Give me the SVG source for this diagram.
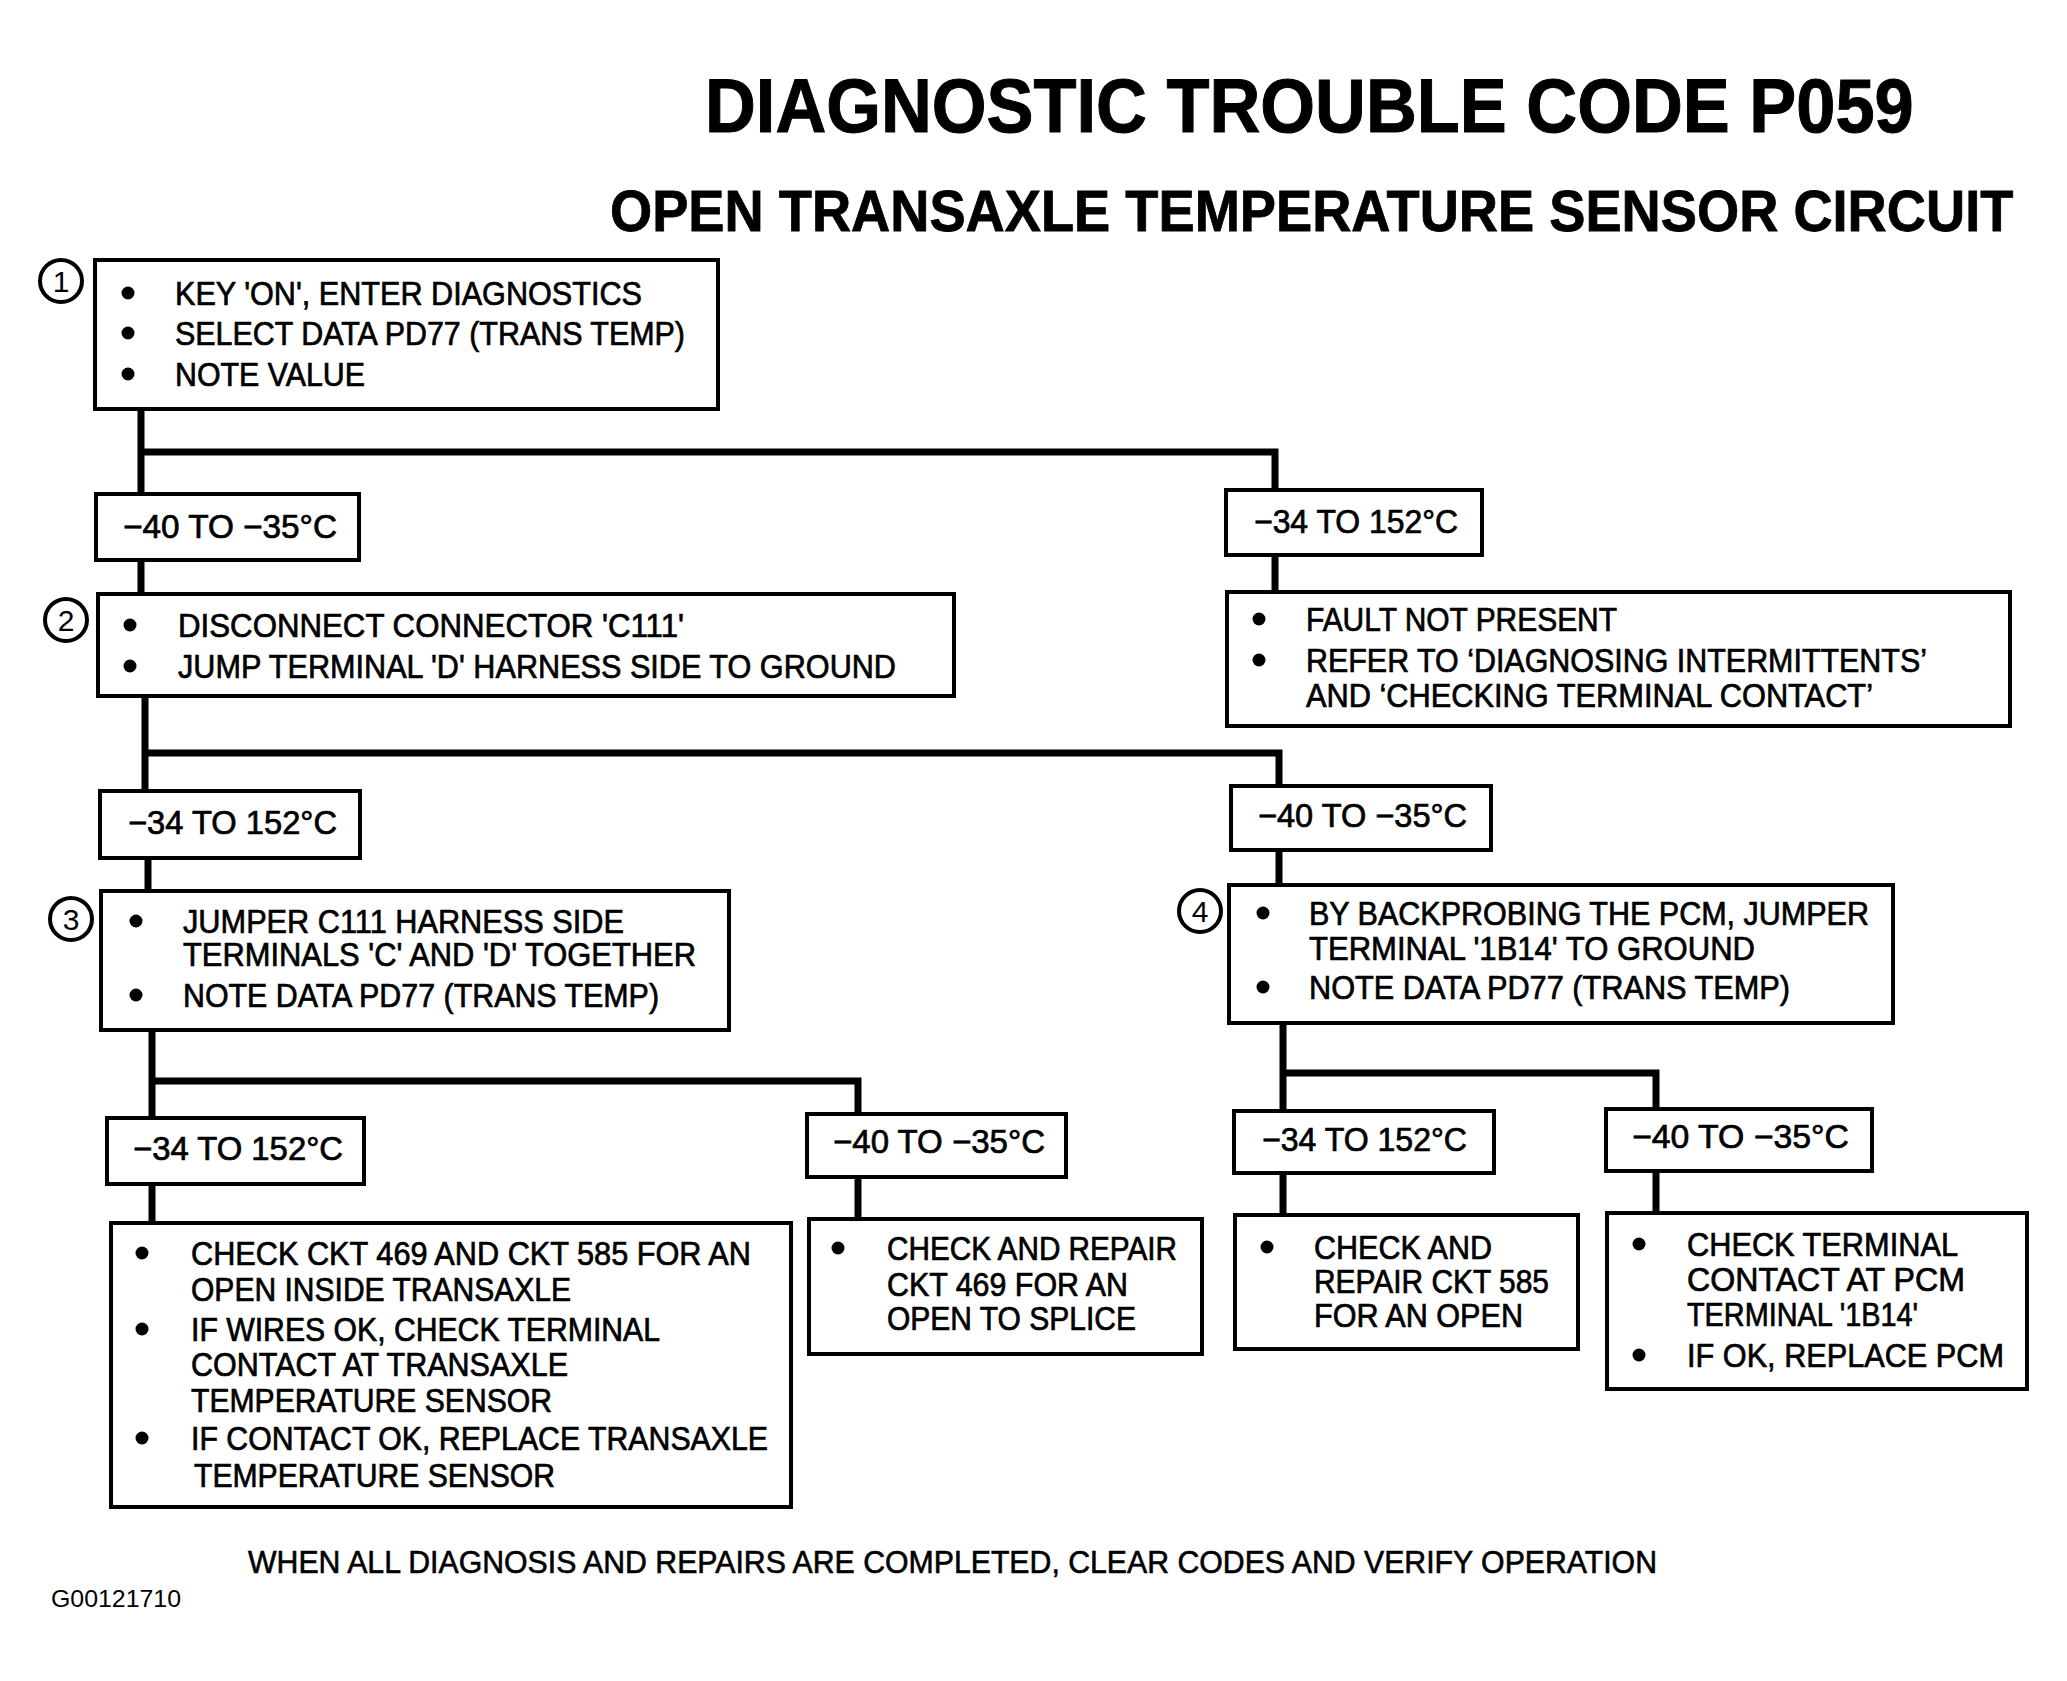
<svg xmlns="http://www.w3.org/2000/svg" width="2067" height="1681" viewBox="0 0 2067 1681">
<style>
.bg{fill:#fff}
.box{fill:#fff;stroke:#000;stroke-width:4}
.lbl{fill:#fff;stroke:#000;stroke-width:4}
.con{fill:none;stroke:#000;stroke-width:7;stroke-linejoin:miter}
.t{font-family:"Liberation Sans",Arial,sans-serif;font-size:33px;fill:#000;stroke:#000;stroke-width:0.7}
.num{font-family:"Liberation Sans",Arial,sans-serif;font-size:30px;fill:#000;text-anchor:middle}
.circ{fill:#fff;stroke:#000;stroke-width:4}
.h1{font-family:"Liberation Sans",Arial,sans-serif;font-weight:bold;font-size:76px;fill:#000;stroke:#000;stroke-width:1}
.h2{font-family:"Liberation Sans",Arial,sans-serif;font-weight:bold;font-size:58px;fill:#000;stroke:#000;stroke-width:0.8}
.foot{font-family:"Liberation Sans",Arial,sans-serif;font-size:31px;fill:#000;stroke:#000;stroke-width:0.6}
.code{font-family:"Liberation Sans",Arial,sans-serif;font-size:24px;fill:#000}
</style>
<defs>
<circle id="dot" r="6.5" fill="#000"/>
</defs>
<rect class="bg" x="0" y="0" width="2067" height="1681"/>

<g id="title">
<text class="h1" transform="translate(705,132) scale(0.85,1)" x="0" y="0" textLength="1422" lengthAdjust="spacingAndGlyphs">DIAGNOSTIC TROUBLE CODE P059</text>
<text class="h2" transform="translate(610,231) scale(0.85,1)" x="0" y="0" textLength="1651" lengthAdjust="spacingAndGlyphs">OPEN TRANSAXLE TEMPERATURE SENSOR CIRCUIT</text>
</g>

<g id="connectors">
<path class="con" d="M141 409 V494"/>
<path class="con" d="M141 452 H1275 V490"/>
<path class="con" d="M141 560 V594"/>
<path class="con" d="M1275 555 V592"/>
<path class="con" d="M145 696 V791"/>
<path class="con" d="M145 753 H1279 V786"/>
<path class="con" d="M148 858 V891"/>
<path class="con" d="M1279 850 V885"/>
<path class="con" d="M152 1030 V1118"/>
<path class="con" d="M152 1081 H858 V1114"/>
<path class="con" d="M152 1184 V1223"/>
<path class="con" d="M858 1177 V1219"/>
<path class="con" d="M1283 1023 V1111"/>
<path class="con" d="M1283 1073 H1656 V1109"/>
<path class="con" d="M1283 1173 V1215"/>
<path class="con" d="M1656 1171 V1213"/>
</g>

<g id="step1">
<rect class="box" x="95" y="260" width="623" height="149"/>
<circle class="circ" cx="61" cy="281" r="21"/>
<text class="num" x="61" y="292">1</text>
<use href="#dot" x="128" y="293"/>
<text class="t" x="175" y="305" textLength="467" lengthAdjust="spacingAndGlyphs">KEY 'ON', ENTER DIAGNOSTICS</text>
<use href="#dot" x="128" y="333"/>
<text class="t" x="175" y="345" textLength="510" lengthAdjust="spacingAndGlyphs">SELECT DATA PD77 (TRANS TEMP)</text>
<use href="#dot" x="128" y="374"/>
<text class="t" x="175" y="386" textLength="190" lengthAdjust="spacingAndGlyphs">NOTE VALUE</text>
</g>

<g id="label1a">
<rect class="lbl" x="96" y="494" width="263" height="66"/>
<text class="t" x="123" y="538" textLength="214" lengthAdjust="spacingAndGlyphs">−40 TO −35°C</text>
</g>
<g id="label1b">
<rect class="lbl" x="1226" y="490" width="256" height="65"/>
<text class="t" x="1254" y="533" textLength="204" lengthAdjust="spacingAndGlyphs">−34 TO 152°C</text>
</g>

<g id="step2">
<rect class="box" x="98" y="594" width="856" height="102"/>
<circle class="circ" cx="66" cy="620" r="21"/>
<text class="num" x="66" y="631">2</text>
<use href="#dot" x="130" y="625"/>
<text class="t" x="178" y="637" textLength="506" lengthAdjust="spacingAndGlyphs">DISCONNECT CONNECTOR 'C111'</text>
<use href="#dot" x="130" y="666"/>
<text class="t" x="178" y="678" textLength="718" lengthAdjust="spacingAndGlyphs">JUMP TERMINAL 'D' HARNESS SIDE TO GROUND</text>
</g>

<g id="faultNotPresent">
<rect class="box" x="1227" y="592" width="783" height="134"/>
<use href="#dot" x="1259" y="619"/>
<text class="t" x="1306" y="631" textLength="311" lengthAdjust="spacingAndGlyphs">FAULT NOT PRESENT</text>
<use href="#dot" x="1259" y="660"/>
<text class="t" x="1306" y="672" textLength="621" lengthAdjust="spacingAndGlyphs">REFER TO ‘DIAGNOSING INTERMITTENTS’</text>
<text class="t" x="1306" y="707" textLength="567" lengthAdjust="spacingAndGlyphs">AND ‘CHECKING TERMINAL CONTACT’</text>
</g>

<g id="label2a">
<rect class="lbl" x="100" y="791" width="260" height="67"/>
<text class="t" x="128" y="834" textLength="209" lengthAdjust="spacingAndGlyphs">−34 TO 152°C</text>
</g>
<g id="label2b">
<rect class="lbl" x="1231" y="786" width="260" height="64"/>
<text class="t" x="1258" y="827" textLength="209" lengthAdjust="spacingAndGlyphs">−40 TO −35°C</text>
</g>

<g id="step3">
<rect class="box" x="101" y="891" width="628" height="139"/>
<circle class="circ" cx="71" cy="919" r="21"/>
<text class="num" x="71" y="930">3</text>
<use href="#dot" x="136" y="921"/>
<text class="t" x="183" y="933" textLength="441" lengthAdjust="spacingAndGlyphs">JUMPER C111 HARNESS SIDE</text>
<text class="t" x="183" y="966" textLength="513" lengthAdjust="spacingAndGlyphs">TERMINALS 'C' AND 'D' TOGETHER</text>
<use href="#dot" x="136" y="995"/>
<text class="t" x="183" y="1007" textLength="476" lengthAdjust="spacingAndGlyphs">NOTE DATA PD77 (TRANS TEMP)</text>
</g>

<g id="step4">
<rect class="box" x="1229" y="885" width="664" height="138"/>
<circle class="circ" cx="1200" cy="911" r="21"/>
<text class="num" x="1200" y="922">4</text>
<use href="#dot" x="1263" y="913"/>
<text class="t" x="1309" y="925" textLength="560" lengthAdjust="spacingAndGlyphs">BY BACKPROBING THE PCM, JUMPER</text>
<text class="t" x="1309" y="960" textLength="446" lengthAdjust="spacingAndGlyphs">TERMINAL '1B14' TO GROUND</text>
<use href="#dot" x="1263" y="987"/>
<text class="t" x="1309" y="999" textLength="481" lengthAdjust="spacingAndGlyphs">NOTE DATA PD77 (TRANS TEMP)</text>
</g>

<g id="label3a">
<rect class="lbl" x="107" y="1118" width="257" height="66"/>
<text class="t" x="133" y="1160" textLength="210" lengthAdjust="spacingAndGlyphs">−34 TO 152°C</text>
</g>
<g id="label3b">
<rect class="lbl" x="807" y="1114" width="259" height="63"/>
<text class="t" x="833" y="1153" textLength="212" lengthAdjust="spacingAndGlyphs">−40 TO −35°C</text>
</g>
<g id="label4a">
<rect class="lbl" x="1234" y="1111" width="260" height="62"/>
<text class="t" x="1262" y="1151" textLength="205" lengthAdjust="spacingAndGlyphs">−34 TO 152°C</text>
</g>
<g id="label4b">
<rect class="lbl" x="1606" y="1109" width="266" height="62"/>
<text class="t" x="1632" y="1148" textLength="217" lengthAdjust="spacingAndGlyphs">−40 TO −35°C</text>
</g>

<g id="result3a">
<rect class="box" x="111" y="1223" width="680" height="284"/>
<use href="#dot" x="142" y="1253"/>
<text class="t" x="191" y="1265" textLength="560" lengthAdjust="spacingAndGlyphs">CHECK CKT 469 AND CKT 585 FOR AN</text>
<text class="t" x="191" y="1301" textLength="380" lengthAdjust="spacingAndGlyphs">OPEN INSIDE TRANSAXLE</text>
<use href="#dot" x="142" y="1329"/>
<text class="t" x="191" y="1341" textLength="469" lengthAdjust="spacingAndGlyphs">IF WIRES OK, CHECK TERMINAL</text>
<text class="t" x="191" y="1376" textLength="377" lengthAdjust="spacingAndGlyphs">CONTACT AT TRANSAXLE</text>
<text class="t" x="191" y="1412" textLength="361" lengthAdjust="spacingAndGlyphs">TEMPERATURE SENSOR</text>
<use href="#dot" x="142" y="1438"/>
<text class="t" x="191" y="1450" textLength="577" lengthAdjust="spacingAndGlyphs">IF CONTACT OK, REPLACE TRANSAXLE</text>
<text class="t" x="194" y="1487" textLength="361" lengthAdjust="spacingAndGlyphs">TEMPERATURE SENSOR</text>
</g>

<g id="result3b">
<rect class="box" x="809" y="1219" width="393" height="135"/>
<use href="#dot" x="838" y="1248"/>
<text class="t" x="887" y="1260" textLength="290" lengthAdjust="spacingAndGlyphs">CHECK AND REPAIR</text>
<text class="t" x="887" y="1296" textLength="241" lengthAdjust="spacingAndGlyphs">CKT 469 FOR AN</text>
<text class="t" x="887" y="1330" textLength="249" lengthAdjust="spacingAndGlyphs">OPEN TO SPLICE</text>
</g>

<g id="result4a">
<rect class="box" x="1235" y="1215" width="343" height="134"/>
<use href="#dot" x="1267" y="1247"/>
<text class="t" x="1314" y="1259" textLength="178" lengthAdjust="spacingAndGlyphs">CHECK AND</text>
<text class="t" x="1314" y="1293" textLength="235" lengthAdjust="spacingAndGlyphs">REPAIR CKT 585</text>
<text class="t" x="1314" y="1327" textLength="209" lengthAdjust="spacingAndGlyphs">FOR AN OPEN</text>
</g>

<g id="result4b">
<rect class="box" x="1607" y="1213" width="420" height="176"/>
<use href="#dot" x="1639" y="1244"/>
<text class="t" x="1687" y="1256" textLength="271" lengthAdjust="spacingAndGlyphs">CHECK TERMINAL</text>
<text class="t" x="1687" y="1291" textLength="278" lengthAdjust="spacingAndGlyphs">CONTACT AT  PCM</text>
<text class="t" x="1687" y="1326" textLength="231" lengthAdjust="spacingAndGlyphs">TERMINAL '1B14'</text>
<use href="#dot" x="1639" y="1355"/>
<text class="t" x="1687" y="1367" textLength="317" lengthAdjust="spacingAndGlyphs">IF OK, REPLACE PCM</text>
</g>

<g id="footer">
<text class="foot" x="248" y="1573" textLength="1409" lengthAdjust="spacingAndGlyphs">WHEN ALL DIAGNOSIS AND REPAIRS ARE COMPLETED, CLEAR CODES AND VERIFY OPERATION</text>
<text class="code" x="51" y="1607" textLength="130" lengthAdjust="spacingAndGlyphs">G00121710</text>
</g>
</svg>
